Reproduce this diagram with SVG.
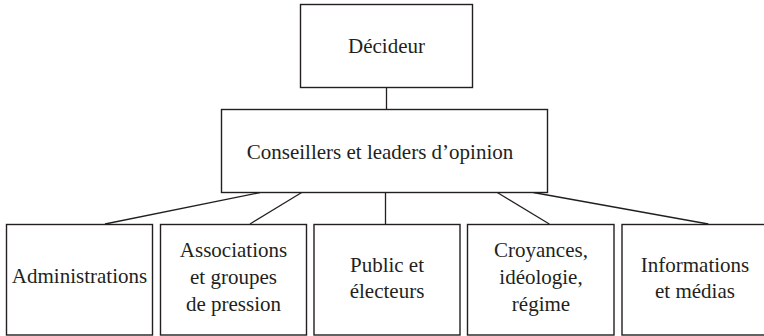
<svg xmlns="http://www.w3.org/2000/svg" width="764" height="336" viewBox="0 0 764 336">
  <style>
    .box { fill: #ffffff; stroke: #231f20; stroke-width: 1.4; }
    .link { fill: none; stroke: #231f20; stroke-width: 1.3; }
    .label { font-size: 21px; fill: #231f20; text-anchor: middle; }
  </style>
  <rect width="764" height="336" fill="#ffffff"/>

  <g id="connectors">
    <line class="link" x1="386.5" y1="87.5" x2="386.5" y2="109.5"/>
    <line class="link" x1="260" y1="192.5" x2="105" y2="224"/>
    <line class="link" x1="301.7" y1="192.5" x2="250" y2="224"/>
    <line class="link" x1="385.5" y1="192.5" x2="385.5" y2="224"/>
    <line class="link" x1="497.3" y1="192.5" x2="549.3" y2="224"/>
    <line class="link" x1="533.3" y1="192.5" x2="708.3" y2="224"/>
  </g>

  <g font-family="Liberation Serif, Times New Roman, serif">
  <g id="decideur">
    <rect class="box" x="300.5" y="4.5" width="172" height="83"/>
    <text class="label" x="386.5" y="53">Décideur</text>
  </g>

  <g id="conseillers">
    <rect class="box" x="221.5" y="109.5" width="326" height="83"/>
    <text class="label" x="380" y="159">Conseillers et leaders d’opinion</text>
  </g>

  <g id="administrations">
    <rect class="box" x="6.5" y="224.5" width="146" height="110.5"/>
    <text class="label" x="79.5" y="283">Administrations</text>
  </g>

  <g id="associations">
    <rect class="box" x="160.5" y="224.5" width="146" height="110.5"/>
    <text class="label" x="233.5" y="257">Associations</text>
    <text class="label" x="233.5" y="284">et groupes</text>
    <text class="label" x="233.5" y="311">de pression</text>
  </g>

  <g id="public">
    <rect class="box" x="314" y="224.5" width="146" height="110.5"/>
    <text class="label" x="387" y="271.5">Public et</text>
    <text class="label" x="387" y="297.5">électeurs</text>
  </g>

  <g id="croyances">
    <rect class="box" x="467.5" y="224.5" width="146.5" height="110.5"/>
    <text class="label" x="541" y="257">Croyances,</text>
    <text class="label" x="541" y="284">idéologie,</text>
    <text class="label" x="541" y="310.5">régime</text>
  </g>

  <g id="informations">
    <rect class="box" x="622" y="224.5" width="146" height="110.5"/>
    <text class="label" x="695" y="271.5">Informations</text>
    <text class="label" x="695" y="298">et médias</text>
  </g>
  </g>
</svg>
